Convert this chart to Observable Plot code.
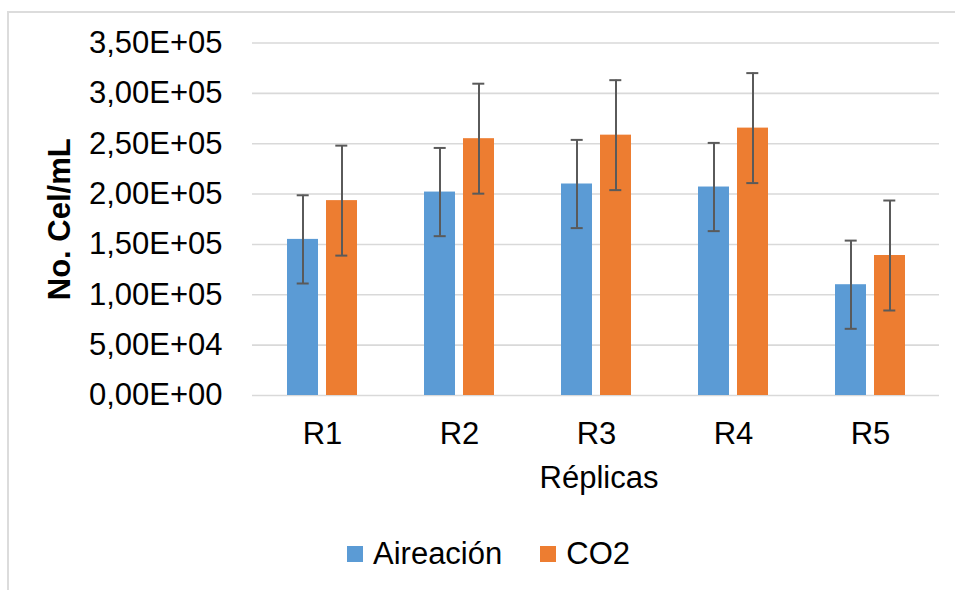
<!DOCTYPE html>
<html>
<head>
<meta charset="utf-8">
<script src="https://cdn.jsdelivr.net/npm/d3@7"></script>
<script src="https://cdn.jsdelivr.net/npm/@observablehq/plot@0.6"></script>
<style>
  html, body { margin: 0; padding: 0; background: #fff; }
  #wrap { position: relative; width: 955px; height: 590px; overflow: hidden; font-family: "Liberation Sans", Arial, sans-serif; }
  #border { position: absolute; left: 7px; top: 11px; right: -10px; bottom: -10px; border-left: 2px solid #dcdcdc; border-top: 2px solid #dcdcdc; }
  #chart { position: absolute; left: 0; top: 0; }
  #legend { position: absolute; left: 347px; top: 538px; display: flex; align-items: center; font-size: 31px; line-height: 31px; color: #000; }
  .item { display: flex; align-items: center; }
  .sw { width: 16px; height: 16px; margin-right: 10px; margin-top: 1px; }
</style>
</head>
<body>
<div id="wrap">
  <div id="border"></div>
  <div id="chart"></div>
  <div id="legend"></div>
</div>
<script>
const categories = ["R1", "R2", "R3", "R4", "R5"];
const seriesNames = ["Aireación", "CO2"];
const seriesColors = ["#5B9BD5", "#ED7D31"];
const aireacion = [155000, 202000, 210000, 207000, 110000];
const co2 = [193500, 255000, 258500, 265500, 139000];
const errAireacion = [43800, 43800, 43800, 43800, 43800];
const errCO2 = [54600, 54600, 54600, 54600, 54600];
const yTicks = [0, 50000, 100000, 150000, 200000, 250000, 300000, 350000];
const yTickLabels = ["0,00E+00", "5,00E+04", "1,00E+05", "1,50E+05", "2,00E+05", "2,50E+05", "3,00E+05", "3,50E+05"];
const xTitle = "Réplicas";
const yTitle = "No. Cel/mL";

const dataA = categories.map((c, i) => ({cat: c, series: seriesNames[0], value: aireacion[i], err: errAireacion[i]}));
const dataC = categories.map((c, i) => ({cat: c, series: seriesNames[1], value: co2[i], err: errCO2[i]}));

const errStroke = "#5a5a5a";
const chart = Plot.plot({
  width: 955,
  height: 510,
  marginLeft: 252,
  marginRight: 16,
  marginTop: 42.5,
  marginBottom: 115,
  style: {fontFamily: "'Liberation Sans', Arial, sans-serif", fontSize: "31px", color: "#000", background: "transparent", overflow: "visible"},
  x: {domain: categories, paddingInner: 0.49, paddingOuter: 0.245, label: null, tickSize: 0, tickPadding: 26.5},
  y: {domain: [0, 350000], ticks: yTicks, tickFormat: d => yTickLabels[yTicks.indexOf(d)], tickSize: 0, tickPadding: 30, label: null},
  marks: [
    Plot.ruleY(yTicks, {y: d => d, stroke: "#d9d9d9", strokeWidth: 1.6}),
    Plot.barY(dataA, {x: "cat", y: "value", fill: seriesColors[0], insetRight: 39}),
    Plot.barY(dataC, {x: "cat", y: "value", fill: seriesColors[1], insetLeft: 39}),
    Plot.ruleX(dataA, {x: "cat", y1: d => d.value - d.err, y2: d => d.value + d.err, dx: -19.5, stroke: errStroke, strokeWidth: 2}),
    Plot.ruleX(dataC, {x: "cat", y1: d => d.value - d.err, y2: d => d.value + d.err, dx: 19.5, stroke: errStroke, strokeWidth: 2}),
    Plot.tickY(dataA, {x: "cat", y: d => d.value + d.err, insetLeft: 9.7, insetRight: 48.3, stroke: errStroke, strokeWidth: 2}),
    Plot.tickY(dataA, {x: "cat", y: d => d.value - d.err, insetLeft: 9.7, insetRight: 48.3, stroke: errStroke, strokeWidth: 2}),
    Plot.tickY(dataC, {x: "cat", y: d => d.value + d.err, insetLeft: 48.3, insetRight: 9.7, stroke: errStroke, strokeWidth: 2}),
    Plot.tickY(dataC, {x: "cat", y: d => d.value - d.err, insetLeft: 48.3, insetRight: 9.7, stroke: errStroke, strokeWidth: 2}),
    Plot.text([xTitle], {text: d => d, frameAnchor: "bottom", textAnchor: "middle", lineAnchor: "middle", dy: 82.8, dx: 3, fontSize: 31, fill: "#000"}),
    Plot.text([yTitle], {text: d => d, frameAnchor: "left", textAnchor: "middle", lineAnchor: "middle", dx: -192.5, rotate: -90, fontSize: 31, fontWeight: "bold", fill: "#000"})
  ]
});
document.getElementById("chart").appendChild(chart);

const legend = document.getElementById("legend");
seriesNames.forEach((name, i) => {
  const item = document.createElement("div");
  item.className = "item";
  if (i > 0) item.style.marginLeft = "38px";
  const sw = document.createElement("div");
  sw.className = "sw";
  sw.style.background = seriesColors[i];
  const label = document.createElement("span");
  label.textContent = name;
  item.appendChild(sw);
  item.appendChild(label);
  legend.appendChild(item);
});
</script>
</body>
</html>
